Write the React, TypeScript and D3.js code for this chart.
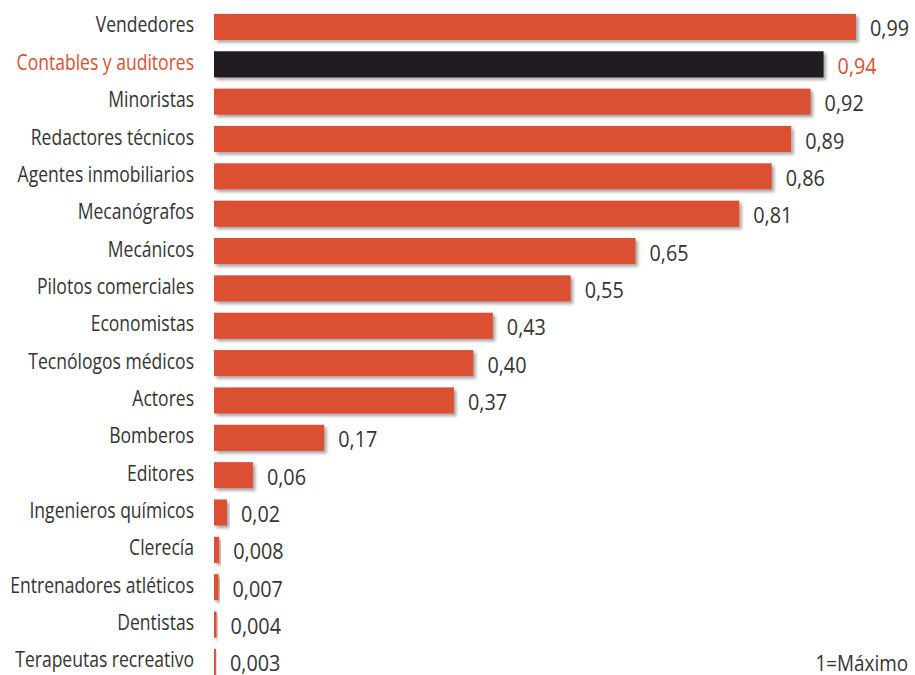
import React from "react";
import * as d3 from "d3";

const categories = [
  "Vendedores",
  "Contables y auditores",
  "Minoristas",
  "Redactores técnicos",
  "Agentes inmobiliarios",
  "Mecanógrafos",
  "Mecánicos",
  "Pilotos comerciales",
  "Economistas",
  "Tecnólogos médicos",
  "Actores",
  "Bomberos",
  "Editores",
  "Ingenieros químicos",
  "Clerecía",
  "Entrenadores atléticos",
  "Dentistas",
  "Terapeutas recreativo",
];
const values = [0.99, 0.94, 0.92, 0.89, 0.86, 0.81, 0.65, 0.55, 0.43, 0.4, 0.37, 0.17, 0.06, 0.02, 0.008, 0.007, 0.004, 0.003];
const valueLabels = ["0,99", "0,94", "0,92", "0,89", "0,86", "0,81", "0,65", "0,55", "0,43", "0,40", "0,37", "0,17", "0,06", "0,02", "0,008", "0,007", "0,004", "0,003"];
const highlight = "Contables y auditores";
const note = "1=Máximo";

const W = 915;
const H = 675;
const FONT = "'Open Sans', sans-serif";
const FS = 22.5;

export default function App() {
  const x = d3.scaleLinear().domain([0, 1]).range([214, 214 + 648.5]);
  const y = d3
    .scaleBand<string>()
    .domain(categories)
    .range([8.3, 8.3 + 18 * 37.35])
    .paddingInner(0.3)
    .paddingOuter(0.15);
  const orange = "#db5033";
  const dark = "#231f20";
  const textCol = "#333333";
  return (
    <svg
      width={W}
      height={H}
      style={{ position: "absolute", left: 0, top: 0, background: "#fff" }}
    >
      <defs>
        <filter id="sh" x="-10%" y="-30%" width="130%" height="180%">
          <feDropShadow dx="2.5" dy="2.5" stdDeviation="1.8" floodColor="#000" floodOpacity="0.35" />
        </filter>
      </defs>
      {categories.map((c, i) => {
        const yc = (y(c) as number) + y.bandwidth() / 2;
        const isH = c === highlight;
        return (
          <g key={c}>
            <rect
              x={x(0)}
              y={y(c)}
              width={x(values[i]) - x(0)}
              height={y.bandwidth()}
              fill={isH ? dark : orange}
              filter="url(#sh)"
            />
            <g transform={`translate(194,${yc + 5.5}) scale(0.78,1)`}>
              <text
                x={0}
                y={0}
                textAnchor="end"
                fontFamily={FONT}
                fontSize={FS}
                fill={isH ? orange : textCol}
              >
                {c}
              </text>
            </g>
            <g transform={`translate(${x(values[i]) + 14},${yc + 9.5}) scale(0.88,1)`}>
              <text x={0} y={0} fontFamily={FONT} fontSize={FS} fill={isH ? orange : textCol}>
                {valueLabels[i]}
              </text>
            </g>
          </g>
        );
      })}
      <g transform="translate(908,671) scale(0.84,1)">
        <text x={0} y={0} textAnchor="end" fontFamily={FONT} fontSize={FS} fill={textCol}>
          {note}
        </text>
      </g>
    </svg>
  );
}
